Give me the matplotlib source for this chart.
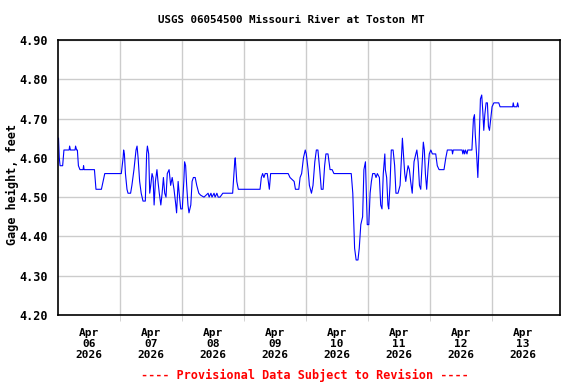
import matplotlib
matplotlib.use("Agg")
import matplotlib.pyplot as plt
from matplotlib.ticker import FixedLocator, FuncFormatter

# hours since Apr 06 2026 00:00
hours = [0.2, 0.5, 0.8, 1.8, 2.3, 4.3, 4.5, 4.8, 6.6, 6.8, 7.2, 7.5, 7.9, 8.5, 9.7, 9.9, 10.1,
         14.1, 14.7, 16.8, 18.1, 24.5, 25.2, 25.4, 25.7, 26.1, 26.7, 27.1, 28.1, 28.6, 29.4,
         30.2, 30.6, 31.0, 31.6, 32.2, 32.9, 33.8, 34.3, 34.6, 35.1, 35.5, 35.9, 36.4, 36.8,
         37.2, 37.7, 38.3, 38.7, 39.2, 39.8, 40.3, 40.8, 41.3, 41.8, 42.3, 43.0, 43.6, 44.2,
         44.9, 45.6, 45.9, 46.5, 46.9, 47.5, 48.1, 48.7, 49.0, 49.4, 49.8, 50.3, 50.7, 51.4,
         51.9, 52.4, 53.1, 53.7, 54.5, 55.2, 56.5, 58.1, 58.5, 59.2, 59.6, 60.4, 60.8, 61.5,
         62.0, 62.7, 63.8, 67.6, 67.9, 68.4, 68.6, 69.2, 69.8, 78.2, 78.7, 79.2, 79.7, 80.2,
         81.0, 81.4, 81.8, 82.3, 89.1, 89.8, 91.4, 91.9, 93.2, 93.7, 94.3, 95.0, 95.7, 96.1,
         96.8, 97.3, 98.1, 98.7, 99.4, 100.0, 100.6, 101.3, 101.9, 102.6, 103.2, 103.7, 104.5,
         105.3, 106.1, 106.8, 113.5, 114.1, 114.5, 114.8, 115.4, 116.1, 116.6, 117.2, 117.9,
         118.4, 119.0, 119.3, 119.7, 120.3, 120.8, 121.3, 121.8, 122.6, 123.1, 123.6, 124.4,
         124.9, 125.4, 125.9, 126.5, 126.7, 127.2, 127.7, 128.0, 128.5, 129.0, 129.7, 130.3,
         130.8, 131.6, 132.4, 132.9, 133.3, 133.7, 134.2, 134.6, 135.0, 135.5, 136.0, 136.5,
         137.1, 137.8, 138.5, 138.9, 139.4, 139.9, 140.4, 140.9, 141.4, 141.8, 142.2, 142.7,
         143.2, 143.7, 144.3, 144.9, 146.2, 146.8, 147.5, 149.4, 150.1, 150.7, 152.5, 152.7,
         153.0, 156.4, 156.7, 157.0, 157.4, 157.7, 158.3, 158.6, 159.7, 160.2, 160.8, 161.2,
         161.5, 162.1, 162.5, 162.9, 163.3, 163.5, 164.0, 164.4, 164.8, 165.2, 165.7, 166.2,
         166.6, 167.0, 167.5, 168.0, 168.7, 170.6, 171.1, 176.0, 176.2, 176.5, 177.6, 177.9,
         178.2]
gage_ft = [4.65, 4.60, 4.58, 4.58, 4.62, 4.62, 4.63, 4.62, 4.62, 4.63, 4.62, 4.62, 4.58, 4.57, 4.57, 4.58, 4.57,
           4.57, 4.52, 4.52, 4.56, 4.56, 4.60, 4.62, 4.61, 4.56, 4.52, 4.51, 4.51, 4.53, 4.57,
           4.62, 4.63, 4.60, 4.54, 4.51, 4.49, 4.49, 4.61, 4.63, 4.61, 4.51, 4.53, 4.56, 4.55,
           4.48, 4.54, 4.57, 4.54, 4.51, 4.48, 4.51, 4.55, 4.51, 4.50, 4.56, 4.57, 4.53, 4.55,
           4.52, 4.48, 4.46, 4.54, 4.51, 4.47, 4.47, 4.54, 4.59, 4.58, 4.53, 4.48, 4.46, 4.48,
           4.54, 4.55, 4.55, 4.53, 4.51, 4.505, 4.50, 4.51, 4.50, 4.51, 4.50, 4.51, 4.50, 4.51,
           4.50, 4.50, 4.51, 4.51, 4.54, 4.59, 4.60, 4.54, 4.52, 4.52, 4.55, 4.56, 4.55, 4.56,
           4.56, 4.54, 4.52, 4.56, 4.56, 4.55, 4.54, 4.52, 4.52, 4.55, 4.56, 4.60, 4.62, 4.61,
           4.57, 4.53, 4.51, 4.53, 4.59, 4.62, 4.62, 4.57, 4.52, 4.52, 4.58, 4.61, 4.61,
           4.57, 4.57, 4.56, 4.56, 4.51, 4.43, 4.37, 4.34, 4.34, 4.37, 4.43, 4.45,
           4.57, 4.59, 4.52, 4.43, 4.43, 4.51, 4.54, 4.56, 4.56, 4.55, 4.56, 4.55,
           4.48, 4.47, 4.56, 4.61, 4.57, 4.55, 4.48, 4.47, 4.53, 4.62, 4.62, 4.58,
           4.51, 4.51, 4.53, 4.60, 4.65, 4.61, 4.56, 4.54, 4.56, 4.58, 4.57, 4.54,
           4.51, 4.59, 4.61, 4.62, 4.59, 4.53, 4.52, 4.58, 4.64, 4.62, 4.56, 4.52,
           4.57, 4.61, 4.62, 4.61, 4.61, 4.58, 4.57, 4.57, 4.60, 4.62, 4.62, 4.61,
           4.62, 4.62, 4.61, 4.62, 4.61, 4.62, 4.61, 4.62, 4.62, 4.62, 4.70, 4.71,
           4.66, 4.60, 4.55, 4.62, 4.71, 4.75, 4.76, 4.72, 4.67, 4.71, 4.74, 4.74,
           4.68, 4.67, 4.70, 4.73, 4.74, 4.74, 4.73, 4.73, 4.74, 4.73, 4.73, 4.74,
           4.73]

day_labels = ["Apr\n06\n2026", "Apr\n07\n2026", "Apr\n08\n2026", "Apr\n09\n2026",
              "Apr\n10\n2026", "Apr\n11\n2026", "Apr\n12\n2026", "Apr\n13\n2026"]
y_ticks = [4.20, 4.30, 4.40, 4.50, 4.60, 4.70, 4.80, 4.90]
title = "USGS 06054500 Missouri River at Toston MT"
ylabel = "Gage height, feet"
footer = "---- Provisional Data Subject to Revision ----"

FONT = "DejaVu Sans Mono"
plt.rcParams["font.family"] = FONT
plt.rcParams["font.weight"] = "bold"

fig = plt.figure(figsize=(5.76, 3.84), dpi=100)
ax = fig.add_axes([58/576, 1-315/384, (560-58)/576, (315-40)/384])

ax.plot(hours, gage_ft, color="#0000ff", linewidth=0.8)

ax.set_xlim(0, 194.3)
ax.set_ylim(4.20, 4.90)

ax.xaxis.set_major_locator(FixedLocator([12 + 24*i for i in range(len(day_labels))]))
ax.xaxis.set_minor_locator(FixedLocator([24*i for i in range(1, len(day_labels))]))
ax.set_xticklabels(day_labels, fontsize=8, fontweight="bold", linespacing=1.15)
ax.tick_params(axis="x", which="major", length=0, pad=9)
ax.tick_params(axis="x", which="minor", length=4, color="#cccccc")
ax.grid(True, axis="x", which="minor", color="#cccccc", linewidth=1.0)

ax.yaxis.set_major_locator(FixedLocator(y_ticks))
ax.yaxis.set_major_formatter(FuncFormatter(lambda v, p: f"{v:.2f}"))
ax.tick_params(axis="y", which="major", length=0, pad=7, labelsize=8.5)
for lab in ax.get_yticklabels():
    lab.set_fontweight("bold")
ax.grid(True, axis="y", which="major", color="#cccccc", linewidth=1.0)
ax.set_axisbelow(True)

for s in ax.spines.values():
    s.set_linewidth(1.2)
    s.set_color("black")

fig.text(291/576, 1-20/384, title, ha="center", va="center", fontsize=7.8, fontweight="bold")
fig.text(12/576, 1-184/384, ylabel, ha="center", va="center", rotation=90, fontsize=8.5, fontweight="bold")
fig.text(305/576, 1-375/384, footer, ha="center", va="center", fontsize=8.5, fontweight="bold", color="#ff0000")

fig.savefig("out.png", dpi=100)
